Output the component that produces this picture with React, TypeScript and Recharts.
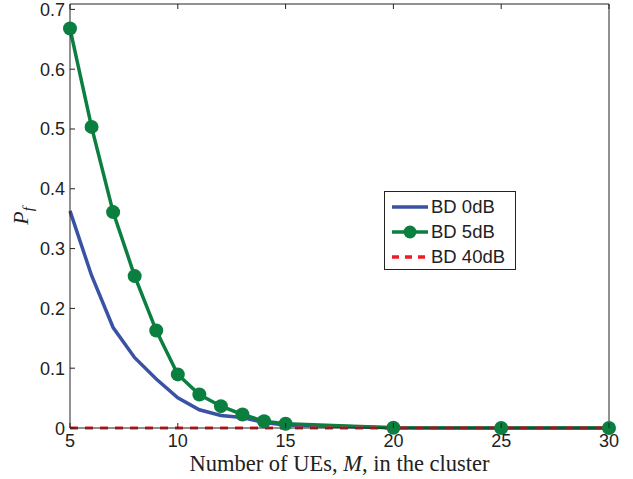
import { LineChart, Line, XAxis, YAxis } from 'recharts';

// Number of UEs in the cluster
const M = [5, 6, 7, 8, 9, 10, 11, 12, 13, 14, 15, 20, 25, 30];
// failure probability per BD level
const bd0 = [0.363, 0.255, 0.168, 0.1175, 0.082, 0.0505, 0.0305, 0.021, 0.0175, 0.009, 0.005, 0.0005, 0, 0];
const bd5 = [0.668, 0.5035, 0.361, 0.254, 0.163, 0.0896, 0.056, 0.0365, 0.0226, 0.0114, 0.007, 0.0005, 0, 0];
const bd40 = [0, 0, 0, 0, 0, 0, 0, 0, 0, 0, 0, 0, 0, 0];

const xTicks = [5, 10, 15, 20, 25, 30];
const yTicks = [0, 0.1, 0.2, 0.3, 0.4, 0.5, 0.6, 0.7];

const seriesNames = ['BD 0dB', 'BD 5dB', 'BD 40dB'];
const colors = ['#3a52a3', '#0b7f3f', '#ee1c24'];

const data = M.map((m, i) => ({ m, bd0: bd0[i], bd5: bd5[i], bd40: bd40[i] }));

const AXIS = '#222';
const TICK_FONT = '"Liberation Sans", Arial, sans-serif';
const SERIF = '"Liberation Serif", "Times New Roman", serif';

const BottomTick = ({ x, y, payload }: any) => (
  <g>
    <line x1={x} y1={y} x2={x} y2={y - 5} stroke={AXIS} strokeWidth={1} />
    <text x={x} y={y + 18.5} textAnchor="middle" fontSize={18} fontFamily={TICK_FONT} fill="#222">
      {payload.value}
    </text>
  </g>
);

const TopTick = ({ x, y }: any) => (
  <line x1={x} y1={y} x2={x} y2={y + 5} stroke={AXIS} strokeWidth={1} />
);

const LeftTick = ({ x, y, payload }: any) => (
  <g>
    <line x1={x} y1={y} x2={x + 5} y2={y} stroke={AXIS} strokeWidth={1} />
    <text x={x - 5} y={y + 6.5} textAnchor="end" fontSize={18} fontFamily={TICK_FONT} fill="#222">
      {payload.value === 0 ? '0' : payload.value.toFixed(1)}
    </text>
  </g>
);

const RightTick = ({ x, y }: any) => (
  <line x1={x} y1={y} x2={x - 5} y2={y} stroke={AXIS} strokeWidth={1} />
);

const XLabel = ({ viewBox }: any) => (
  <text
    x={viewBox.x + viewBox.width / 2}
    y={viewBox.y + 43}
    textAnchor="middle"
    fontSize={22.5}
    fontFamily={SERIF}
    fill="#222"
  >
    Number of UEs, <tspan fontStyle="italic">M</tspan>, in the cluster
  </text>
);

const YLabel = () => (
  <text
    transform="translate(28, 216) rotate(-90)"
    textAnchor="middle"
    fontSize={22}
    fontFamily={SERIF}
    fill="#222"
  >
    <tspan fontStyle="italic">P</tspan>
    <tspan fontStyle="italic" fontSize={15} dy={5}>f</tspan>
  </text>
);

const LegendBox = () => (
  <div
    style={{
      position: 'absolute',
      left: 384,
      top: 191,
      width: 132,
      height: 79,
      boxSizing: 'border-box',
      border: '1px solid #222',
      background: '#fff',
      paddingTop: 2,
      paddingLeft: 6,
    }}
  >
    {seriesNames.map((name, i) => (
      <div key={name} style={{ display: 'flex', alignItems: 'center', height: 25 }}>
        <svg width={38} height={16}>
          <line
            x1={1}
            y1={8}
            x2={37}
            y2={8}
            stroke={colors[i]}
            strokeWidth={3.5}
            strokeDasharray={i === 2 ? '7 6' : undefined}
          />
          {i === 1 && <circle cx={19} cy={8} r={6.5} fill={colors[i]} />}
        </svg>
        <span style={{ fontFamily: TICK_FONT, fontSize: 18.5, color: '#222', marginLeft: 2 }}>{name}</span>
      </div>
    ))}
  </div>
);

export default function App() {
  return (
    <div style={{ position: 'absolute', left: 0, top: 0, width: 633, height: 479, background: '#fff' }}>
      <LineChart
        width={633}
        height={479}
        data={data}
        margin={{ top: 3, right: 23, bottom: 0, left: 0 }}
      >
        <XAxis
          xAxisId="bottom"
          dataKey="m"
          type="number"
          domain={[5, 30]}
          ticks={xTicks}
          interval={0}
          height={51}
          tickSize={0}
          tickMargin={0}
          tickLine={false}
          axisLine={{ stroke: AXIS }}
          tick={(p: any) => <BottomTick {...p} />}
          label={<XLabel />}
        />
        <XAxis
          xAxisId="top"
          orientation="top"
          dataKey="m"
          type="number"
          domain={[5, 30]}
          ticks={xTicks}
          interval={0}
          height={1}
          tickSize={0}
          tickMargin={0}
          tickLine={false}
          axisLine={{ stroke: AXIS }}
          tick={(p: any) => <TopTick {...p} />}
        />
        <YAxis
          yAxisId="left"
          type="number"
          domain={[0, 0.709]}
          ticks={yTicks}
          interval={0}
          width={70}
          tickSize={0}
          tickMargin={0}
          tickLine={false}
          axisLine={{ stroke: AXIS }}
          tick={(p: any) => <LeftTick {...p} />}
          label={<YLabel />}
        />
        <YAxis
          yAxisId="right"
          orientation="right"
          type="number"
          domain={[0, 0.709]}
          ticks={yTicks}
          interval={0}
          width={1}
          tickSize={0}
          tickMargin={0}
          tickLine={false}
          axisLine={{ stroke: AXIS }}
          tick={(p: any) => <RightTick {...p} />}
        />
        <Line
          xAxisId="bottom"
          yAxisId="left"
          dataKey="bd0"
          name={seriesNames[0]}
          stroke={colors[0]}
          strokeWidth={3.5}
          dot={false}
          type="linear"
          isAnimationActive={false}
        />
        <Line
          xAxisId="bottom"
          yAxisId="left"
          dataKey="bd5"
          name={seriesNames[1]}
          stroke={colors[1]}
          strokeWidth={3.5}
          dot={{ r: 7, fill: colors[1], stroke: 'none' }}
          type="linear"
          isAnimationActive={false}
        />
        <Line
          xAxisId="bottom"
          yAxisId="left"
          dataKey="bd40"
          name={seriesNames[2]}
          stroke={colors[2]}
          strokeWidth={3}
          strokeDasharray="8 7"
          dot={false}
          type="linear"
          isAnimationActive={false}
        />
      </LineChart>
      <LegendBox />
    </div>
  );
}
